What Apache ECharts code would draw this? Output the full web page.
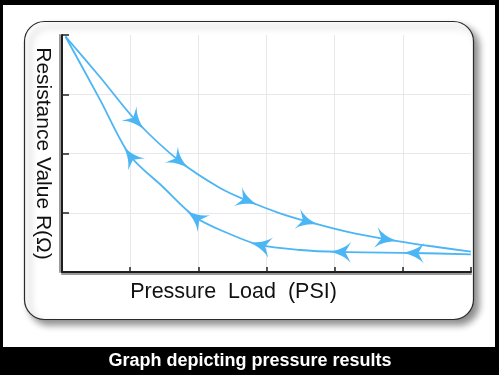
<!DOCTYPE html>
<html><head><meta charset="utf-8">
<script src="https://cdn.jsdelivr.net/npm/echarts@6/dist/echarts.min.js"></script>
<style>html,body{margin:0;padding:0;background:#000}#c{width:499px;height:375px}</style>
</head><body><div id="c"></div>
<script>
// ---- data ----
const xTicks = [0, 1, 2, 3, 4, 5, 6];
const yTicks = [0, 1, 2, 3, 4];
const loadX = [0.051, 0.557, 1.096, 1.731, 2.318, 2.729, 3.198, 3.609, 4.176, 4.763, 5.398, 5.998];
const loadR = [3.975, 3.291, 2.540, 1.865, 1.418, 1.198, 0.991, 0.849, 0.680, 0.552, 0.439, 0.343];
const unloadX = [0.051, 0.557, 0.997, 1.467, 1.951, 2.391, 2.904, 3.491, 4.078, 5.149, 5.998];
const unloadR = [3.975, 2.910, 1.967, 1.451, 0.928, 0.675, 0.456, 0.371, 0.338, 0.321, 0.299];
const loadArrowIdx = [2, 3, 5, 7, 9];
const unloadArrowIdx = [2, 4, 6, 8, 9];
const xTitle = 'Pressure  Load  (PSI)';
const yTitle = 'Resistance Value R(\u03A9)';
const caption = 'Graph depicting pressure results';

// ---- chart ----
const BLUE = '#4cb6f4';
const FONT = 'Liberation Sans, Arial, sans-serif';
const ARROW = 'path://M50,0 C58,45 76,80 100,100 L50,74 L0,100 C24,80 42,45 50,0 Z';
const chart = echarts.init(document.getElementById('c'), null, {renderer: 'canvas'});

const loadPts = loadX.map((x, i) => [x, loadR[i]]);
const unloadPts = unloadX.map((x, i) => [x, unloadR[i]]);

function arrowData(pts, idx, reverse) {
  return idx.map(i => {
    let rot = 0;
    if (chart.__ready) {
      const a = chart.convertToPixel({gridIndex: 0}, pts[Math.max(0, i - 1)]);
      const b = chart.convertToPixel({gridIndex: 0}, pts[Math.min(pts.length - 1, i + 1)]);
      let dx = b[0] - a[0], dy = b[1] - a[1];
      if (reverse) { dx = -dx; dy = -dy; }
      const ang = Math.atan2(-dy, dx) * 180 / Math.PI;
      rot = ang - 90;
    }
    return {value: pts[i], symbolRotate: rot};
  });
}

function build() {
  return {
    backgroundColor: '#000',
    animation: false,
    graphic: [
      {type: 'rect', z: -20, silent: true, shape: {x: 3, y: 5, width: 492, height: 342},
        style: {fill: '#fff'}},
      {type: 'rect', z: -10, silent: true, shape: {x: 24.5, y: 21.5, width: 449, height: 298, r: 20},
        style: {fill: '#fff', stroke: '#2a2a2a', lineWidth: 1.2,
          shadowBlur: 7, shadowOffsetX: 5, shadowOffsetY: 5, shadowColor: 'rgba(0,0,0,0.45)'}},
      {type: 'text', z: 10, silent: true, x: 250, y: 361,
        style: {text: caption, fill: '#fff', font: 'bold 18px ' + FONT, align: 'center', verticalAlign: 'middle'}}
    ],
    grid: {left: 62, right: 28, top: 35, bottom: 103, containLabel: false},
    xAxis: {
      type: 'value', min: xTicks[0], max: xTicks[xTicks.length - 1], interval: 1,
      name: xTitle, nameLocation: 'middle', nameGap: 9,
      nameTextStyle: {fontSize: 21.5, fontFamily: FONT, color: '#111', padding: [0, 66, 0, 0]},
      axisLine: {show: true, lineStyle: {color: '#1e1e1e', width: 2, shadowColor: '#9a9a9a', shadowOffsetY: 2, shadowBlur: 0}},
      axisTick: {show: true, inside: true, length: 5, lineStyle: {color: '#222', width: 1.5}},
      axisLabel: {show: false},
      splitLine: {show: true, showMinLine: false, showMaxLine: false, lineStyle: {color: '#e7e7ec', width: 1}}
    },
    yAxis: {
      type: 'value', min: yTicks[0], max: yTicks[yTicks.length - 1], interval: 1,
      name: yTitle, nameLocation: 'middle', nameGap: 9, nameRotate: -90,
      nameTextStyle: {fontSize: 21, fontFamily: FONT, color: '#111'},
      axisLine: {show: true, lineStyle: {color: '#1e1e1e', width: 2, shadowColor: '#9a9a9a', shadowOffsetX: -2, shadowBlur: 0}},
      axisTick: {show: true, inside: true, length: 7, lineStyle: {color: '#222', width: 1.5}},
      axisLabel: {show: false},
      splitLine: {show: true, showMinLine: false, showMaxLine: false, lineStyle: {color: '#e7e7ec', width: 1}}
    },
    series: [
      {type: 'line', data: loadPts, smooth: 0.3, symbol: 'none', lineStyle: {color: BLUE, width: 1.8}, z: 3},
      {type: 'line', data: unloadPts, smooth: 0.3, symbol: 'none', lineStyle: {color: BLUE, width: 1.8}, z: 3},
      {type: 'scatter', data: arrowData(loadPts, loadArrowIdx, false), symbol: ARROW, symbolSize: [21, 22],
        itemStyle: {color: BLUE, opacity: 1}, z: 4, silent: true},
      {type: 'scatter', data: arrowData(unloadPts, unloadArrowIdx, true), symbol: ARROW, symbolSize: [21, 22],
        itemStyle: {color: BLUE, opacity: 1}, z: 4, silent: true}
    ]
  };
}
chart.setOption(build());
chart.__ready = true;
chart.setOption(build());
</script></body></html>
